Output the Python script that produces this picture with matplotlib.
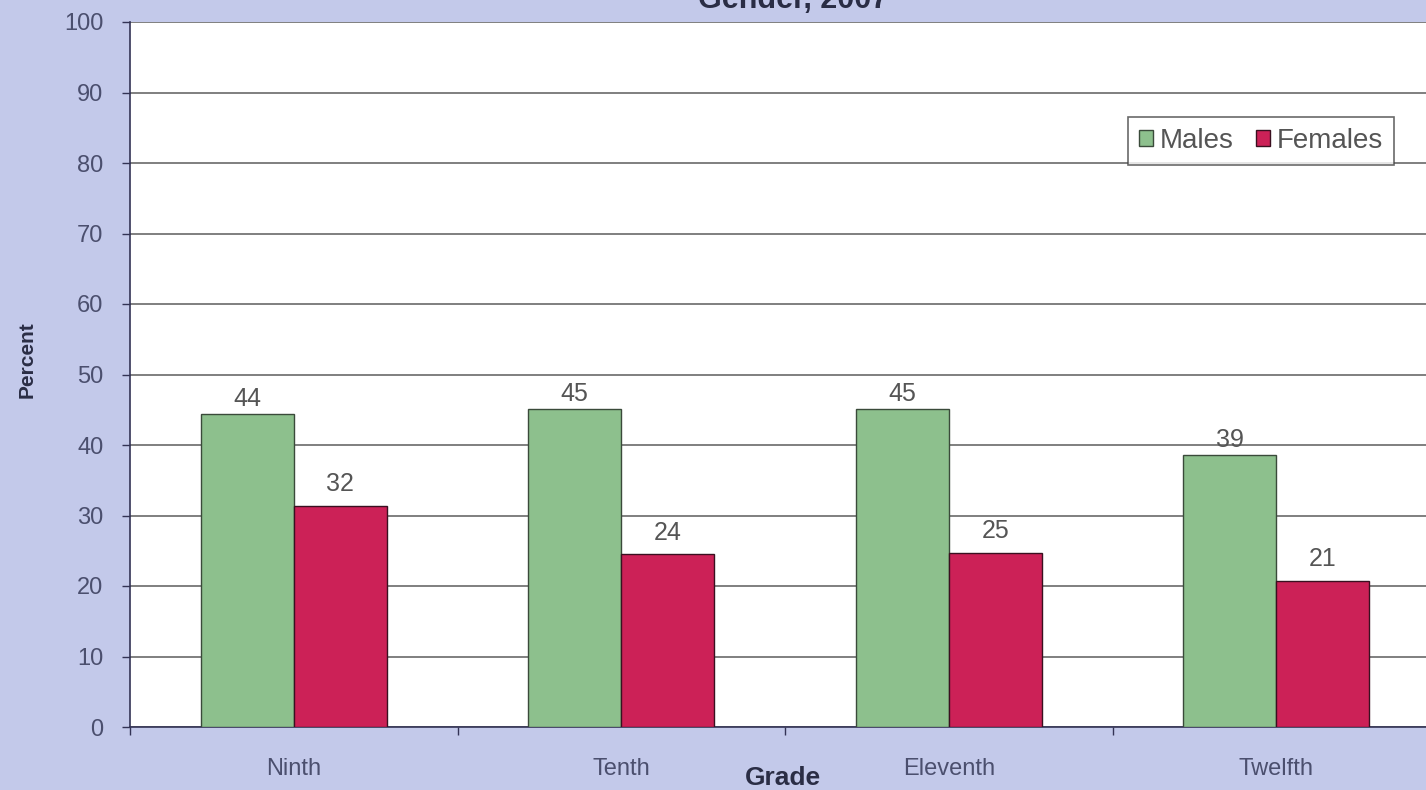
import matplotlib
matplotlib.use("Agg")
import matplotlib.pyplot as plt
import numpy as np
from matplotlib.patches import Patch

grades = ["Ninth", "Tenth", "Eleventh", "Twelfth"]
males = [44.4, 45.1, 45.1, 38.6]
females = [31.4, 24.5, 24.7, 20.7]
male_labels = ["44", "45", "45", "39"]
female_labels = ["32", "24", "25", "21"]
yticks = list(range(0, 101, 10))

W, H = 1426, 790
bg = "#c3c9ea"
green = "#8dc08d"
red = "#cc2157"
txt = "#4b4f6e"

plt.rcParams['font.family'] = ['Liberation Sans', 'DejaVu Sans']
fig = plt.figure(figsize=(W/100, H/100), dpi=100, facecolor=bg)
left, right = 130, 1440
bottom, top = 727, 22
ax = fig.add_axes([left/W, 1-bottom/H, (right-left)/W, (bottom-top)/H])
ax.set_facecolor("white")

x = np.arange(len(grades))
bw = 0.284
ax.bar(x - bw/2, males, bw, color=green, edgecolor="#3a4a3a", linewidth=1.0, zorder=3)
ax.bar(x + bw/2, females, bw, color=red, edgecolor="#3a1020", linewidth=1.0, zorder=3)

for i in range(len(grades)):
    ax.annotate(male_labels[i], (x[i] - bw/2, males[i]), xytext=(0, 2), textcoords="offset points",
                ha="center", va="bottom", fontsize=18, color="#555555")
    ax.annotate(female_labels[i], (x[i] + bw/2, females[i]), xytext=(0, 7), textcoords="offset points",
                ha="center", va="bottom", fontsize=18, color="#555555")

ax.set_xlim(-0.5, len(grades) - 0.5)
ax.set_ylim(0, 100)
ax.set_yticks(yticks)
ax.set_yticklabels([str(v) for v in yticks], fontsize=17, color=txt)
ax.set_xticks(np.arange(len(grades) + 1) - 0.5)
ax.set_xticklabels([])
ax.set_xticks(x, minor=True)
ax.set_xticklabels(grades, minor=True, fontsize=17, color=txt)
ax.tick_params(axis="x", which="minor", length=0, pad=22)
ax.tick_params(axis="x", which="major", length=6, width=1, color="#333355", direction="out")
ax.tick_params(axis="y", length=6, width=1, color="#333355", direction="out", pad=13)

ax.yaxis.grid(True, color="#6a6a6a", linewidth=1.2, zorder=0)
ax.set_axisbelow(True)
for s in ["top", "right"]:
    ax.spines[s].set_visible(False)
ax.spines["left"].set_color("#333355")
ax.spines["bottom"].set_color("#333355")
ax.spines["left"].set_linewidth(1.2)
ax.spines["bottom"].set_linewidth(1.2)

fig.text(27/W, 1-360/H, "Percent", rotation=90, ha="center", va="center",
         fontsize=15, fontweight="bold", color="#2a2d45")
fig.text(783/W, 1-778/H, "Grade", ha="center", va="center",
         fontsize=19, fontweight="bold", color="#2a2d45")
fig.text(793/W, 1-8/H, "Gender, 2007", ha="center", va="baseline",
         fontsize=22, fontweight="bold", color="#2a2d45")

handles = [Patch(facecolor=green, edgecolor="#3a4a3a", label="Males"),
           Patch(facecolor=red, edgecolor="#3a1020", label="Females")]
leg = ax.legend(handles=handles, ncol=2, loc="upper left",
                bbox_to_anchor=((1128-left)/(right-left), (bottom-117)/(bottom-top)),
                fontsize=20, frameon=True, fancybox=False, edgecolor="#444444",
                handlelength=0.5, handleheight=0.5, handletextpad=0.25, columnspacing=0.8,
                borderpad=0.4, borderaxespad=0, labelcolor="#555555")
leg.get_frame().set_linewidth(1.2)

fig.savefig("out.png", dpi=100, facecolor=bg)
